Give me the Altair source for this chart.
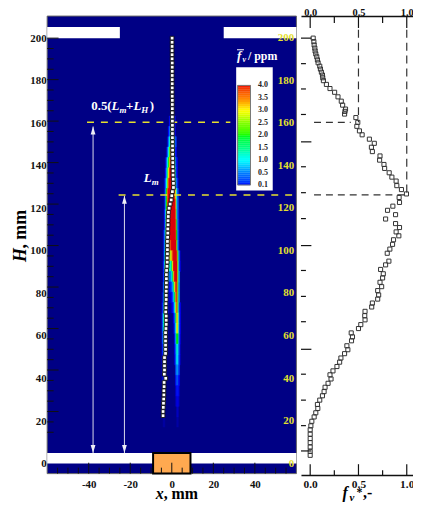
import altair as alt
import pandas as pd

SERIF = "Liberation Serif"

# ---- profile (right panel)
prof_H = [200.0,198.3,196.7,195.2,193.8,192.4,191.0,189.5,188.1,186.5,185.1,183.6,182.2,180.9,179.5,177.7,175.7,173.9,171.7,169.6,167.7,165.8,164.7,163.4,161.7,159.4,157.5,155.3,153.4,151.3,149.3,147.4,145.3,143.2,141.2,139.1,137.2,135.1,133.0,131.1,128.9,127.0,124.9,123.2,120.8,119.0,117.0,114.9,112.8,110.6,108.7,106.6,104.7,102.8,100.6,98.3,96.3,
          92.5,90.7,88.5,86.4,84.4,82.3,80.2,78.3,76.2,74.2,72.3,70.4,68.3,66.2,64.2,61.9,60.0,57.9,56.0,54.1,51.7,49.8,47.9,45.8,43.8,41.7,39.6,37.7,35.7,33.6,31.7,29.6,27.6,25.5,23.4,21.5,19.4,17.4,15.3,13.1,11.2,9.1,7.0,5.0,2.9,0.8,-1.1]
prof_f = [.031,.038,.041,.048,.051,.058,.068,.075,.082,.099,.106,.116,.127,.130,.137,.168,.205,.253,.288,.322,.336,.366,.360,.356,.473,.493,.483,.510,.538,.613,.664,.634,.644,.723,.719,.764,.771,.818,.846,.890,.897,.945,.997,.921,.925,.856,.801,.884,.781,.884,.925,.890,.918,.863,.853,.825,.798,
          .815,.781,.729,.757,.75,.723,.74,.699,.709,.699,.644,.637,.568,.565,.568,.524,.5,.425,.438,.428,.38,.39,.356,.318,.305,.277,.236,.205,.216,.185,.154,.144,.127,.099,.075,.079,.058,.041,.017,.007,0,0,0,0,0,0,0]

# ---- centreline squares (left panel), H from 200 to 18 every 2 mm
line_H = list(range(200, 17, -2))
line_x = [.15,.15,.15,.15,.15,.15,.2,.2,.2,.2,
          .2,.2,.2,.2,.2,.25,.25,.25,.25,.25,
          .3,.3,.3,.3,.3,.35,.35,.4,.4,.45,
          .5,.5,.6,.6,.7,.8,.8,.3,0,-.3,
          -.8,-1.3,-1.6,-1.7,-1.8,-1.8,-1.9,-1.9,-2.0,-2.1,
          -2.1,-2.1,-2.1,-2.2,-2.2,-2.3,-2.5,-2.6,-2.6,-2.6,
          -2.6,-2.7,-2.7,-2.7,-2.8,-2.8,-2.9,-2.7,-2.7,-2.7,
          -2.8,-3.0,-3.0,-3.0,-3.0,-3.0,-3.0,-3.5,-3.5,-3.5,
          -3.5,-3.6,-2.9,-3.7,-3.7,-3.8,-3.8,-3.9,-4.0,-4.1,
          -4.2,-4.2]

# ---- soot field: (H, first x, values every 0.5 mm)
heat_rows = [
 (165,-.5,[.05,.1,.05]),
 (160,-1,[.1,.3,.6,.6,.3,.1]),
 (155,-1.5,[.1,.4,.9,1.4,1.0,.5,.1]),
 (150,-2,[.05,.4,1.0,2,3,3,1.8,.8,.2]),
 (145,-2.5,[.05,.3,1,2.2,3.3,3.6,3.2,1.8,.7,.1]),
 (140,-3,[.05,.3,1,2,3.2,3.8,4,3.8,3,1.6,.5,.1]),
 (135,-3,[.1,.6,1.6,3,3.8,4,4,4,3.6,2.2,.7,.1]),
 (130,-3.5,[.05,.3,1,2.5,3.7,4,4,4,4,3.8,2.8,1,.3,.05]),
 (125,-3.5,[.05,.5,2,3.6,4,4,4,4,4,4,3.8,3,1,.2]),
 (120,-3.5,[.05,.5,2,3.7,4,4,4,4,4,4,4,3.4,1.2,.3]),
 (115,-3.5,[.1,.7,2.4,3.8,4,4,4,4,4,4,4,3.6,1.4,.3,.03]),
 (110,-3.5,[.1,.8,2.8,3.9,4,3.9,4,4,4,4,4,3.8,1.8,.4,.05]),
 (105,-4,[.05,.3,1.2,3.2,4,3.8,3.8,4,4,4,4,4,3.9,2,.5,.05]),
 (100,-4,[.05,.4,1.4,3.3,4,3.7,3.5,3.7,4,4,4,4,4,2.4,.6,.05]),
 (95,-4,[.05,.5,1.9,3.6,3.9,3.4,2.9,2.7,3.2,3.8,4,4,4,3.9,2.4,.6,.05]),
 (90,-4,[.1,.8,2.5,3.6,3,2,1.2,1.1,1.8,3,4,4,4,4,2.6,.7,.08]),
 (85,-4,[.1,1,2.8,3,1.6,.7,.4,.5,.9,1.8,3.2,4,4,4,2.6,.7]),
 (80,-4,[.2,1.4,3,2.2,.6,.2,.1,.15,.3,.7,1.6,3,3.9,3.9,2.4,.6]),
 (75,-4.5,[.05,.3,1.8,2.8,1.4,.3,.08,.03,.05,.1,.3,.8,1.9,3.4,3.9,2.4,.6]),
 (70,-4.5,[.1,.6,2.2,2.2,.8,.15,.03,.01,.01,.05,.1,.3,1,2.8,3.7,2.4,.6,.1]),
 (65,-4.5,[.15,1,2.2,1.4,.4,.08]),
 (65,1,[.1,.4,1.6,3.2,2.8,.8,.1]),
 (60,-4.5,[.15,1.1,1.8,.9,.2,.04]),
 (60,1,[.05,.2,1,3,2.8,.8,.1]),
 (55,-4.5,[.15,.9,1.3,.5,.1]),
 (55,1.5,[.12,.7,2,2,.6,.08]),
 (50,-4.5,[.1,.6,.9,.3,.05]),
 (50,1.5,[.1,.5,1.2,1.2,.4,.05]),
 (45,-4.5,[.1,.4,.6,.15]),
 (45,1.5,[.08,.4,.95,.9,.3,.05]),
 (40,-4.5,[.08,.25,.3,.1]),
 (40,2,[.25,.6,.6,.2]),
 (35,-4.5,[.06,.15,.15,.05]),
 (35,2,[.12,.3,.3,.1]),
 (30,-4.5,[.04,.08,.08]),
 (30,2,[.06,.12,.12,.05]),
 (25,-4.5,[.03,.05,.05]),
 (25,2,[.04,.07,.07,.03]),
 (20,-4,[.03,.03]),
 (20,2.5,[.04,.04]),
 (15,-4,[.02,.02]),
 (15,2.5,[.02,.02]),
]
color_stops = [0.1,0.5,1.0,1.5,2.0,2.5,3.0,3.5,4.0]
color_range = ["#0000ff","#0080ff","#00ffff","#00ff80","#00ff00","#80ff00","#ffff00","#ff8000","#f00000"]

x_ticks_major = [-40,-20,0,20,40]
x_ticks_minor = [v for v in range(-55,60,5) if v % 20]
h_ticks_major = list(range(20,201,20))
h_ticks_minor = [v for v in range(10,201,5) if v % 20]
h_labels = list(range(0,201,20))
f_major = [0.0,0.5,1.0]
f_minor = [0.25,0.75]
# right-hand H ticks (own spacing in the figure)
r_major = [200.0,150.0,100.0,50.0,1.0]
r_minor = [187.7,175.5,163.2,138.0,125.5,113.0,88.0,75.5,63.3,38.0,25.5,13.2]

cells = []
for h,x0,vals in heat_rows:
    for i,v in enumerate(vals):
        x = x0+i*0.5
        cells.append(dict(x=x-.25,x2=x+.25,y=h-2.5,y2=h+2.5,v=v))
cells = pd.DataFrame(cells)

W, H_ = 251.4, 461.5
XS = alt.Scale(domain=[-60,60],nice=False,zero=False)
YS = alt.Scale(domain=[-9.93,210.64],nice=False,zero=False)
LS = alt.Scale(domain=[-4.66,210.35],nice=False,zero=False)

def rects(rows,color,**kw):
    return alt.Chart(pd.DataFrame(rows,columns=["x","x2","y","y2"])).mark_rect(color=color,**kw).encode(
        x=alt.X("x:Q",scale=XS,axis=None),x2="x2:Q",
        y=alt.Y("y:Q",scale=YS,axis=None),y2="y2:Q")

def txt(s,x,y,size,color="black",style="normal",angle=0,weight="bold"):
    return alt.Chart(pd.DataFrame({"t":[s]})).mark_text(align="left",baseline="alphabetic",font=SERIF,fontSize=size,
        fontWeight=weight,fontStyle=style,color=color,angle=angle).encode(text="t:N",x=alt.value(x),y=alt.value(y))

def xticks(vals,ln):
    return alt.Chart(pd.DataFrame({"x":vals})).mark_rule(color="#111",strokeWidth=1).encode(
        x=alt.X("x:Q",scale=XS,axis=None),y=alt.value(H_),y2=alt.value(H_-ln))
def yticks(vals,ln):
    return alt.Chart(pd.DataFrame({"y":vals})).mark_rule(color="#111",strokeWidth=1).encode(
        y=alt.Y("y:Q",scale=YS,axis=None),x=alt.value(0),x2=alt.value(ln))

bg = alt.Chart(pd.DataFrame({"x":[-60],"x2":[60],"y":[-9.93],"y2":[210.64]})).mark_rect(color="#000085",stroke="#666",strokeWidth=1).encode(
    x=alt.X("x:Q",scale=XS,title=None,axis=alt.Axis(values=x_ticks_major,labelExpr="''+datum.value",tickSize=0,grid=False,
        labelFont=SERIF,labelFontWeight="bold",labelFontSize=11,labelColor="#111",labelPadding=5,domain=False)),
    x2="x2:Q",y=alt.Y("y:Q",scale=YS,axis=None),y2="y2:Q")

CS = alt.Scale(domain=color_stops,range=color_range,clamp=True)
heat = alt.Chart(cells).mark_rect(strokeWidth=0.4).encode(
    x=alt.X("x:Q",scale=XS,axis=None),x2="x2:Q",
    y=alt.Y("y:Q",scale=YS,axis=None),y2="y2:Q",
    color=alt.Color("v:Q",scale=CS,legend=None),
    stroke=alt.Stroke("v:Q",scale=CS,legend=None),
    opacity=alt.Opacity("v:Q",scale=alt.Scale(domain=[0,0.1],range=[0,1],clamp=True),legend=None))

# colour key: equally spaced labels, as in the figure
bar_left, bar_right, bar_bottom, bar_top = 31.7, 37.9, 129.2, 177.2
bar_step = (bar_top-bar_bottom)/(len(color_stops)-1)
bar_cells = []
for i in range(len(color_stops)-1):
    a,b = color_stops[i],color_stops[i+1]
    for k in range(6):
        bar_cells.append(dict(x=bar_left,x2=bar_right,y=bar_bottom+bar_step*(i+k/6),y2=bar_bottom+bar_step*(i+(k+1)/6),v=a+(b-a)*(k+.5)/6))
bar = alt.Chart(pd.DataFrame(bar_cells)).mark_rect(strokeWidth=0.3).encode(
    x=alt.X("x:Q",scale=XS,axis=None),x2="x2:Q",
    y=alt.Y("y:Q",scale=YS,axis=None),y2="y2:Q",
    color=alt.Color("v:Q",scale=CS,legend=None),
    stroke=alt.Stroke("v:Q",scale=CS,legend=None))
bar_frame = rects([[bar_left,bar_right,bar_bottom,bar_top]],"#777",fillOpacity=0,stroke="#777",strokeWidth=1)
bar_text = alt.Chart(pd.DataFrame({"x":[41.5]*len(color_stops),
                                   "y":[bar_bottom+bar_step*i for i in range(len(color_stops))],
                                   "t":[f"{v:.1f}" for v in color_stops]})).mark_text(
    align="left",font=SERIF,fontWeight="bold",fontSize=8,color="#222").encode(
    x=alt.X("x:Q",scale=XS,axis=None),y=alt.Y("y:Q",scale=YS,axis=None),text="t:N")

slabs = rects([[-60,-25,200,205.4],[25,60,200,205.4],[-60,-9,-5,0],[9,60,-5,0]],"white")
burner = rects([[-9,9,-9.9,0]],"#ffa950",stroke="black",strokeWidth=2)
legend_box = rects([[31.0,48.6,126.5,186.0]],"white")

yellow_rows = pd.DataFrame({"x":[-40.8,-25.6],"x2":[28.2,60],"y":[159.4,124.4]})
yellow = alt.Chart(yellow_rows).mark_rule(color="#e6e02e",strokeWidth=1.5,strokeDash=[7,7]).encode(
    x=alt.X("x:Q",scale=XS,axis=None),x2="x2:Q",y=alt.Y("y:Q",scale=YS,axis=None))

arrow_rows = pd.DataFrame({"x":[-37.9,-22.8],"y":[157.4,124],"y2":[0,0]})
arrows = alt.Chart(arrow_rows).mark_rule(color="#dcdcec",strokeWidth=1).encode(
    x=alt.X("x:Q",scale=XS,axis=None),y=alt.Y("y:Q",scale=YS,axis=None),y2="y2:Q")
TRI_UP = "M0,-1L0.6,1L-0.6,1Z"
TRI_DN = "M0,1L0.6,-1L-0.6,-1Z"
heads_up = alt.Chart(pd.DataFrame({"x":[-37.9,-22.8],"y":[155.5,122.1]})).mark_point(shape=TRI_UP,filled=True,size=64,color="#eeeef6",opacity=1).encode(
    x=alt.X("x:Q",scale=XS,axis=None),y=alt.Y("y:Q",scale=YS,axis=None))
heads_dn = alt.Chart(pd.DataFrame({"x":[-37.9,-22.8],"y":[1.9,1.9]})).mark_point(shape=TRI_DN,filled=True,size=64,color="#eeeef6",opacity=1).encode(
    x=alt.X("x:Q",scale=XS,axis=None),y=alt.Y("y:Q",scale=YS,axis=None))

centre = alt.Chart(pd.DataFrame({"x":line_x,"y":line_H})).mark_square(size=14,color="white",stroke="#111",strokeWidth=0.9,opacity=1).encode(
    x=alt.X("x:Q",scale=XS,axis=None),y=alt.Y("y:Q",scale=YS,axis=None))

left_labels = alt.Chart(pd.DataFrame({"y":h_labels,"x":[58.9]*len(h_labels)})).mark_text(
    align="right",font=SERIF,fontWeight="bold",fontSize=11,color="#e6e02e").encode(
    x=alt.X("x:Q",scale=XS,axis=None),
    y=alt.Y("y:Q",scale=LS,title=None,axis=alt.Axis(values=h_labels,tickSize=0,domain=False,grid=False,labelFont=SERIF,
        labelFontWeight="bold",labelFontSize=11,labelColor="#111",labelPadding=1,format="d")),
    text=alt.Text("y:Q",format="d"))

ox, oy = 46.5, 16
def T(s,px,py,*a,**k):
    return txt(s,px-ox,py-oy,*a,**k)

left = alt.layer(
    bg,heat,slabs,burner,
    xticks(x_ticks_major,11),xticks(x_ticks_minor,6),yticks(h_ticks_major,11.5),yticks(h_ticks_minor,6.5),
    arrows,heads_up,heads_dn,yellow,legend_box,bar,bar_frame,bar_text,centre,left_labels,
    T("0.5(",91,111,13,color="white"),T("L",111.5,111,13,color="white",style="italic"),T("m",119.5,114,9,color="white",style="italic"),
    T("+",126,111,13,color="white"),T("L",133.5,111,13,color="white",style="italic"),T("H",141.5,114,9,color="white",style="italic"),
    T(")",150,111,13,color="white"),
    T("L",144,183,13,color="white",style="italic"),T("m",152,186,9,color="white",style="italic"),
    T("f",238,60,13,color="white",style="italic"),T("v",243.5,62,8,color="white",style="italic"),T("/ ppm",249,60,12,color="white"),
    alt.Chart(pd.DataFrame({"a":[0]})).mark_rule(color="white",strokeWidth=1).encode(
        x=alt.value(238-ox),x2=alt.value(245-ox),y=alt.value(50-oy)),
    T("x",156,503,16,style="italic"),T(", mm",164,503,16),
    T("H",25,264,18,style="italic",angle=270),T(", mm",25,250.5,18,angle=270),
).resolve_scale(y="independent").resolve_axis(x="independent").properties(width=W,height=H_)

# ---- right panel
RH = 463
RXS = alt.Scale(domain=[-0.0955,1.0647],nice=False,zero=False)
RYS = alt.Scale(domain=[-10.64,210.64],nice=False,zero=False)

def raxis(orient,pad,base,size):
    return alt.Axis(orient=orient,values=f_major,format=".1f",tickSize=0,grid=False,labelFont=SERIF,labelFontWeight="bold",
        labelFontSize=size,labelColor="#111",labelPadding=pad,labelBaseline=base,domainColor="#111",domainWidth=1.5)

pts = alt.Chart(pd.DataFrame({"f":prof_f,"H":prof_H})).mark_point(shape="square",size=17,color="#333",strokeWidth=1,opacity=1).encode(
    x=alt.X("f:Q",scale=RXS,title=None,axis=raxis("top",1,"alphabetic",10.5)),
    y=alt.Y("H:Q",scale=RYS,title=None,axis=alt.Axis(labels=False,ticks=False,grid=False,domainColor="#111",domainWidth=1.5)))
bottom_axis = alt.Chart(pd.DataFrame({"f":[0.0]})).mark_point(opacity=0).encode(
    x=alt.X("f:Q",scale=RXS,title=None,axis=raxis("bottom",4,"top",11.5)))

dash_v = alt.Chart(pd.DataFrame({"f":[.5,1.0],"y":[204,204],"y2":[159.4,124.4]})).mark_rule(color="#333",strokeWidth=1.2,strokeDash=[8,5]).encode(
    x=alt.X("f:Q",scale=RXS,axis=None),y=alt.Y("y:Q",scale=RYS,axis=None),y2="y2:Q")
dash_h = alt.Chart(pd.DataFrame({"f":[.04,.04],"f2":[.42,1.0],"y":[159.4,124.4]})).mark_rule(color="#333",strokeWidth=1.2,strokeDash=[7,5]).encode(
    x=alt.X("f:Q",scale=RXS,axis=None),x2="f2:Q",y=alt.Y("y:Q",scale=RYS,axis=None))

def rt_y(vals,ln):
    return alt.Chart(pd.DataFrame({"y":vals})).mark_rule(color="#111",strokeWidth=1.2).encode(
        y=alt.Y("y:Q",scale=RYS,axis=None),x=alt.value(0),x2=alt.value(ln))
def rt_x(vals,ln,bottom):
    a,b = (RH,RH-ln) if bottom else (0,ln)
    return alt.Chart(pd.DataFrame({"x":vals})).mark_rule(color="#111",strokeWidth=1.2).encode(
        x=alt.X("x:Q",scale=RXS,axis=None),y=alt.value(a),y2=alt.value(b))

rx, ry = 300, 16
def R(s,px,py,*a,**k):
    return txt(s,px-rx,py-ry,*a,**k)

right = alt.layer(
    dash_v,dash_h,pts,bottom_axis,
    rt_y(r_major,10.5),rt_y(r_minor,5),
    rt_x(f_major,12,False),rt_x(f_minor,7,False),rt_x(f_major,11,True),rt_x(f_minor,5,True),
    R("f",342,502,16,style="italic"),R("v",349,505,11,style="italic"),R("*",356,500,12),R(",-",362.5,502,16),
).resolve_axis(x="independent").properties(width=113,height=RH)

chart = alt.hconcat(left,right,spacing=2).resolve_scale(color="independent").properties(
    padding={"left":3.5,"top":-3,"right":-1,"bottom":-3}
).configure_view(stroke=None)

chart.save("out.html", embed_options={"renderer": "svg", "actions": False})
